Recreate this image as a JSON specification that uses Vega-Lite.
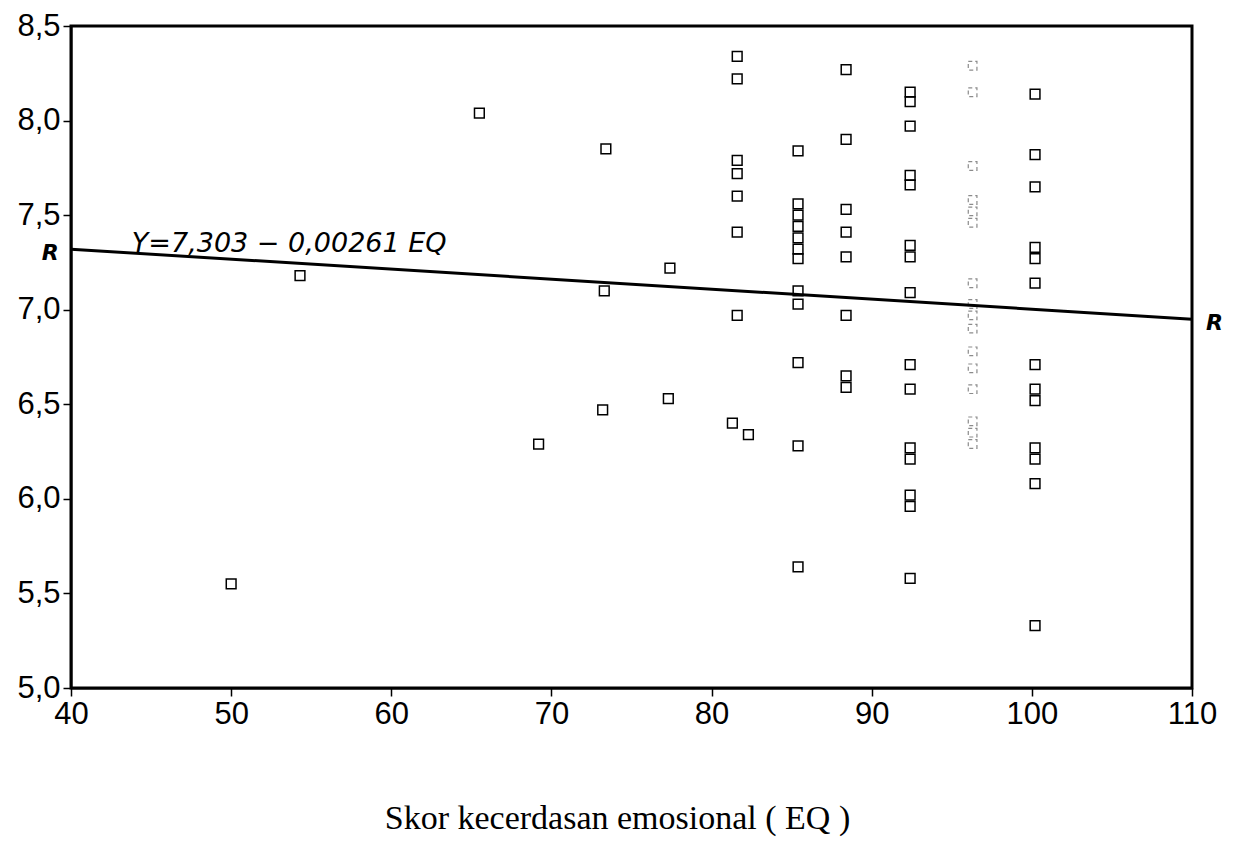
{
  "$schema": "https://vega.github.io/schema/vega-lite/v6.json",
  "autosize": "none",
  "width": 1121,
  "height": 662,
  "padding": {"left": 71, "top": 26, "right": 43, "bottom": 169},
  "background": "white",
  "config": {
    "view": {"stroke": "black", "strokeWidth": 3},
    "axis": {"grid": false, "domainColor": "black", "domainWidth": 2, "tickColor": "black", "tickWidth": 1.5, "tickSize": 8, "labelColor": "black", "labelFont": "Liberation Sans", "labelFontSize": 31, "titleColor": "black"}
  },
  "datasets": {
    "points": [
      {"eq": 50.0, "nilai": 5.55},
      {"eq": 54.3, "nilai": 7.18},
      {"eq": 65.5, "nilai": 8.04},
      {"eq": 69.2, "nilai": 6.29},
      {"eq": 73.4, "nilai": 7.85},
      {"eq": 73.3, "nilai": 7.10},
      {"eq": 73.2, "nilai": 6.47},
      {"eq": 77.4, "nilai": 7.22},
      {"eq": 77.3, "nilai": 6.53},
      {"eq": 81.6, "nilai": 8.34},
      {"eq": 81.6, "nilai": 8.22},
      {"eq": 81.6, "nilai": 7.79},
      {"eq": 81.6, "nilai": 7.72},
      {"eq": 81.6, "nilai": 7.60},
      {"eq": 81.6, "nilai": 7.41},
      {"eq": 81.6, "nilai": 6.97},
      {"eq": 81.3, "nilai": 6.40},
      {"eq": 82.3, "nilai": 6.34},
      {"eq": 85.4, "nilai": 7.84},
      {"eq": 85.4, "nilai": 7.56},
      {"eq": 85.4, "nilai": 7.50},
      {"eq": 85.4, "nilai": 7.44},
      {"eq": 85.4, "nilai": 7.38},
      {"eq": 85.4, "nilai": 7.32},
      {"eq": 85.4, "nilai": 7.27},
      {"eq": 85.4, "nilai": 7.10},
      {"eq": 85.4, "nilai": 7.03},
      {"eq": 85.4, "nilai": 6.72},
      {"eq": 85.4, "nilai": 6.28},
      {"eq": 85.4, "nilai": 5.64},
      {"eq": 88.4, "nilai": 8.27},
      {"eq": 88.4, "nilai": 7.90},
      {"eq": 88.4, "nilai": 7.53},
      {"eq": 88.4, "nilai": 7.41},
      {"eq": 88.4, "nilai": 7.28},
      {"eq": 88.4, "nilai": 6.97},
      {"eq": 88.4, "nilai": 6.65},
      {"eq": 88.4, "nilai": 6.59},
      {"eq": 92.4, "nilai": 8.15},
      {"eq": 92.4, "nilai": 8.10},
      {"eq": 92.4, "nilai": 7.97},
      {"eq": 92.4, "nilai": 7.71},
      {"eq": 92.4, "nilai": 7.66},
      {"eq": 92.4, "nilai": 7.34},
      {"eq": 92.4, "nilai": 7.28},
      {"eq": 92.4, "nilai": 7.09},
      {"eq": 92.4, "nilai": 6.71},
      {"eq": 92.4, "nilai": 6.58},
      {"eq": 92.4, "nilai": 6.27},
      {"eq": 92.4, "nilai": 6.21},
      {"eq": 92.4, "nilai": 6.02},
      {"eq": 92.4, "nilai": 5.96},
      {"eq": 92.4, "nilai": 5.58},
      {"eq": 100.2, "nilai": 8.14},
      {"eq": 100.2, "nilai": 7.82},
      {"eq": 100.2, "nilai": 7.65},
      {"eq": 100.2, "nilai": 7.33},
      {"eq": 100.2, "nilai": 7.27},
      {"eq": 100.2, "nilai": 7.14},
      {"eq": 100.2, "nilai": 6.71},
      {"eq": 100.2, "nilai": 6.58},
      {"eq": 100.2, "nilai": 6.52},
      {"eq": 100.2, "nilai": 6.27},
      {"eq": 100.2, "nilai": 6.21},
      {"eq": 100.2, "nilai": 6.08},
      {"eq": 100.2, "nilai": 5.33}
    ],
    "faint": [
      {"eq": 96.3, "nilai": 8.29},
      {"eq": 96.3, "nilai": 8.15},
      {"eq": 96.3, "nilai": 7.76},
      {"eq": 96.3, "nilai": 7.58},
      {"eq": 96.3, "nilai": 7.52},
      {"eq": 96.3, "nilai": 7.46},
      {"eq": 96.3, "nilai": 7.14},
      {"eq": 96.3, "nilai": 7.03},
      {"eq": 96.3, "nilai": 6.97},
      {"eq": 96.3, "nilai": 6.90},
      {"eq": 96.3, "nilai": 6.78},
      {"eq": 96.3, "nilai": 6.69},
      {"eq": 96.3, "nilai": 6.58},
      {"eq": 96.3, "nilai": 6.41},
      {"eq": 96.3, "nilai": 6.35},
      {"eq": 96.3, "nilai": 6.29}
    ],
    "garis": [
      {"eq": 40, "nilai": 7.32},
      {"eq": 110, "nilai": 6.95}
    ],
    "catatan": [
      {"eq": 43.8, "nilai": 7.35, "teks": "Y=7,303 − 0,00261 EQ", "jenis": "persamaan"},
      {"eq": 38.7, "nilai": 7.30, "teks": "R", "jenis": "R"},
      {"eq": 111.4, "nilai": 6.93, "teks": "R", "jenis": "R"}
    ]
  },
  "encoding": {
    "x": {
      "field": "eq", "type": "quantitative",
      "scale": {"domain": [40, 110], "nice": false, "zero": false},
      "axis": {"values": [40, 50, 60, 70, 80, 90, 100, 110], "title": "Skor kecerdasan emosional ( EQ )", "titleFont": "Liberation Serif", "titleFontSize": 34, "titleFontWeight": "normal", "titlePadding": 72, "titleX": 546, "labelPadding": 3, "labelFlush": false}
    },
    "y": {
      "field": "nilai", "type": "quantitative",
      "scale": {"domain": [5, 8.5], "nice": false, "zero": false},
      "axis": {"values": [5, 5.5, 6, 6.5, 7, 7.5, 8, 8.5], "title": null, "labelExpr": "replace(format(datum.value, '.1f'), '.', ',')", "labelPadding": 3}
    }
  },
  "layer": [
    {
      "data": {"name": "points"},
      "mark": {"type": "point", "shape": "square", "size": 95, "filled": false, "stroke": "black", "strokeWidth": 1.5, "opacity": 1}
    },
    {
      "data": {"name": "faint"},
      "mark": {"type": "point", "shape": "square", "size": 75, "filled": false, "stroke": "black", "strokeWidth": 1.2, "opacity": 0.45, "strokeDash": [4, 3]}
    },
    {
      "data": {"name": "garis"},
      "mark": {"type": "line", "color": "black", "strokeWidth": 3, "clip": false}
    },
    {
      "data": {"name": "catatan"},
      "transform": [{"filter": "datum.jenis == 'persamaan'"}],
      "mark": {"type": "text", "align": "left", "baseline": "middle", "font": "DejaVu Sans", "fontStyle": "italic", "fontSize": 27, "color": "black"},
      "encoding": {"text": {"field": "teks"}}
    },
    {
      "data": {"name": "catatan"},
      "transform": [{"filter": "datum.jenis == 'R'"}],
      "mark": {"type": "text", "align": "center", "baseline": "middle", "font": "DejaVu Sans", "fontStyle": "italic", "fontWeight": "bold", "fontSize": 22, "color": "black"},
      "encoding": {"text": {"field": "teks"}}
    }
  ]
}
